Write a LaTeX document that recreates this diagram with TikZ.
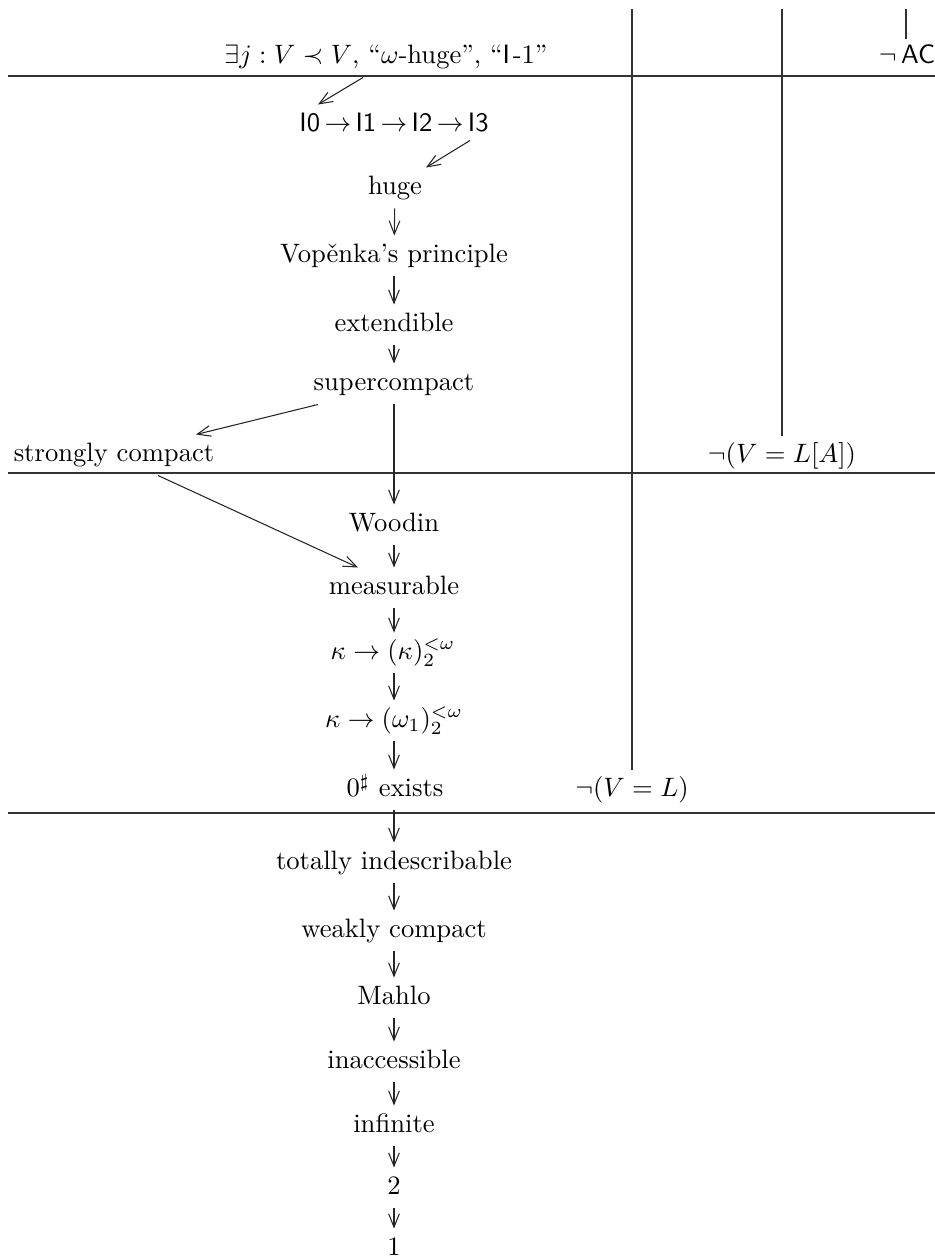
\documentclass[tikz,border=0pt]{standalone}
\usetikzlibrary{arrows.meta,calc}
\begin{document}
\begin{tikzpicture}[x=0.3759pt,y=-0.3759pt,
  lbl/.style={inner sep=3pt,text height=7pt,text depth=2pt,font=\fontsize{10}{12}\selectfont},
  arr/.style={-{Straight Barb[length=5pt,width=4pt]},line width=0.4pt,black!85},
  rule/.style={line width=0.4pt,black!80}]
\useasboundingbox (0,0) rectangle (935,1258);
% nodes
\node[lbl] (top) at (386,57) {$\exists j: V\prec V$, ``$\omega$-huge'', ``\textsf{I}\kern1pt-1''};
\node[lbl] (ich) at (394,125) {\textsf{I0}\,$\to$\,\textsf{I1}\,$\to$\,\textsf{I2}\,$\to$\,\textsf{I3}};
\node[lbl] (huge) at (395,188) {huge};
\node[lbl] (vop) at (394,256) {Vop\v{e}nka's principle};
\node[lbl] (ext) at (394,325) {extendible};
\node[lbl] (sup) at (394,384) {supercompact};
\node[lbl] (sc) at (114,455) {strongly compact};
\node[lbl] (wood) at (394,525) {Woodin};
\node[lbl] (meas) at (394,588) {measurable};
\node[lbl] (kk) at (393,653) {$\kappa\to(\kappa)^{<\omega}_2$};
\node[lbl] (ko) at (394,721) {$\kappa\to(\omega_1)^{<\omega}_2$};
\node[lbl] (zs) at (395,790) {$0^\sharp$ exists};
\node[lbl] (nvl) at (632,790) {$\neg(V=L)$};
\node[lbl] (nvla) at (782,456) {$\neg(V=L[A])$};
\node[lbl] (nac) at (907,57) {$\neg$\,\textsf{AC}};
\node[lbl] (ti) at (394,863) {totally indescribable};
\node[lbl] (wc) at (394,931) {weakly compact};
\node[lbl] (mahlo) at (394,998) {Mahlo};
\node[lbl] (inacc) at (394,1062) {inaccessible};
\node[lbl] (inf) at (394,1126) {infinite};
\node[lbl] (two) at (394,1188) {2};
\node[lbl] (one) at (394,1249) {1};
% top coordinates of vertical rules
\coordinate (tl) at (632,9);
\coordinate (tla) at (782,9);
\coordinate (tac) at (906,9);
% horizontal rules
\draw[rule] (8,76) -- (935,76);
\draw[rule] (8,473) -- (935,473);
\draw[rule] (8,813) -- (935,813);
% vertical rules
\draw[rule] (nvl.north) -- (tl);
\draw[rule] (nvla.north) -- (tla);
\draw[rule,shorten <=-1pt] ($(nac.north)+(-1,0)$) -- (tac);
% arrows
\draw[arr] ($(top.south)+(-23,0)$) -- ($(ich.north)+(-76,0)$);
\draw[arr] ($(ich.south)+(76,-5)$) -- ($(huge.north)+(31,0)$);
\draw[arr] (huge) -- (vop);
\draw[arr] (vop) -- (ext);
\draw[arr] (ext) -- (sup);
\draw[arr] ($(sup.south)+(-76,0)$) -- ($(sc.north)+(82,0)$);
\draw[arr] (sup) -- (wood);
\draw[arr] ($(sc.south)+(44,0)$) -- ($(meas.north)+(-36,0)$);
\draw[arr] (wood) -- (meas);
\draw[arr] (meas) -- (kk.north -| meas);
\draw[arr] (kk.south -| meas) -- (ko.north -| meas);
\draw[arr] (ko.south -| meas) -- (zs.north -| meas);
\draw[arr] (zs.south -| meas) -- (ti);
\draw[arr] (ti) -- (wc);
\draw[arr] (wc) -- (mahlo);
\draw[arr] (mahlo) -- (inacc);
\draw[arr] (inacc) -- (inf);
\draw[arr] (inf) -- (two);
\draw[arr] (two) -- (one);
\end{tikzpicture}
\end{document}
